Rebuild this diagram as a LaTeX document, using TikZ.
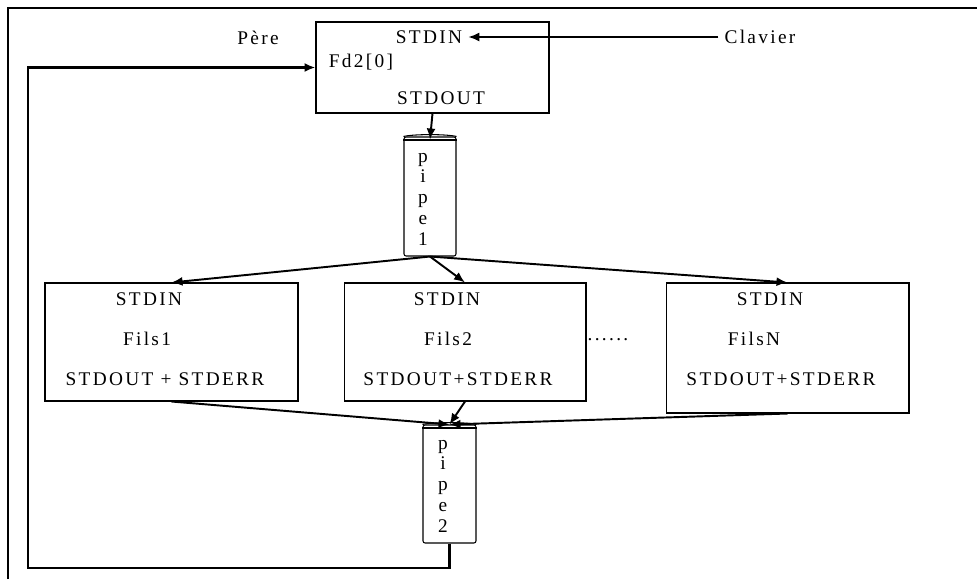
\documentclass[tikz,border=0pt]{standalone}
\usepackage{fontspec}
\setmainfont{Liberation Serif}[LetterSpace=12]
\usepackage{tikz}
\usetikzlibrary{shapes.geometric, arrows.meta, positioning, calc}

\tikzset{
  boite/.style={draw, rectangle, line width=0.6pt, inner sep=0pt},
  tuyau/.style={draw, rectangle, rounded corners=1.2pt, line width=0.6pt, inner sep=0pt},
  lien/.style={->, line width=1.1pt},
  retour/.style={->, line width=1.6pt},
  >={Latex[length=2.2mm,width=1.8mm]}
}

% couvercle du tuyau
\newcommand{\couvercle}[1]{%
  \draw[line width=0.6pt] (#1.north west) .. controls ($(#1.north west)+(10,-2.5)$) and ($(#1.north east)+(-10,-2.5)$) .. (#1.north east);
  \draw[line width=0.6pt] ($(#1.north west)+(0,3.5)$) -- ($(#1.north east)+(0,3.5)$);
}

\begin{document}
\begin{tikzpicture}[x=0.02cm, y=-0.02cm, font=\fontsize{11}{11.8}\selectfont]
    \useasboundingbox (0,0) rectangle (977,579);

    % Cadre
    \draw[line width=1.6pt] (8,579) -- (8,8) -- (977,8);

    % Pere
    \node[boite, minimum width=4.66cm, minimum height=1.82cm] (pere) at (432.5,67.5) {};
    \node (pereIn) at (429,37) {STDIN};
    \node (pereFd) at (361,62) {Fd2[0]};
    \node (pereOut) at (441,98) {STDOUT};
    \node (pereNom) at (258,38) {Père};

    % Clavier
    \node (clavier) at (760,37) {Clavier};
    \draw[lien] (clavier.west) -- (pereIn.east);

    % Pipe 1
    \node[tuyau, minimum width=1.04cm, minimum height=2.38cm] (pipeUn) at (430,196.5) {};
    \couvercle{pipeUn}
    \node[align=center] (pipeUnTxt) at (423,199) {p\\i\\p\\e\\1};
    \draw[lien] (pere.south) -- ($(pipeUn.north)+(0,3)$);

    % Fils
    \node[boite, minimum width=5.06cm, minimum height=2.36cm] (filsUn) at (171.5,342) {};
    \node (filsUnIn) at (149,299) {STDIN};
    \node (filsUnNom) at (147,339) {Fils1};
    \node (filsUnOut) at (165,379) {STDOUT + STDERR};

    \node[boite, minimum width=4.84cm, minimum height=2.36cm] (filsDeux) at (465,342) {};
    \node (filsDeuxIn) at (447,299) {STDIN};
    \node (filsDeuxNom) at (448,339) {Fils2};
    \node (filsDeuxOut) at (458,379) {STDOUT+STDERR};

    \node (points) at (608,340) {......};

    \node[boite, minimum width=4.86cm, minimum height=2.6cm] (filsN) at (787.5,348) {};
    \node (filsNIn) at (770,299) {STDIN};
    \node (filsNNom) at (754,339) {FilsN};
    \node (filsNOut) at (781,379) {STDOUT+STDERR};

    \draw[lien] (pipeUn.south) -- (filsUn.north);
    \draw[lien] (pipeUn.south) -- (filsDeux.north);
    \draw[lien] (pipeUn.south) -- (filsN.north);

    % Pipe 2
    \node[tuyau, minimum width=1.06cm, minimum height=2.36cm] (pipeDeux) at (449.5,484) {};
    \couvercle{pipeDeux}
    \node[align=center] (pipeDeuxTxt) at (443,486) {p\\i\\p\\e\\2};

    \draw[lien] (filsUn.south) -- (pipeDeux.north);
    \draw[lien] (filsDeux.south) -- (pipeDeux.north);
    \draw[lien] (filsN.south) -- (pipeDeux.north);

    % Retour vers le pere
    \coordinate (coin) at (28,568);
    \draw[retour] (pipeDeux.south) |- (coin) |- (pere.west);
\end{tikzpicture}
\end{document}
